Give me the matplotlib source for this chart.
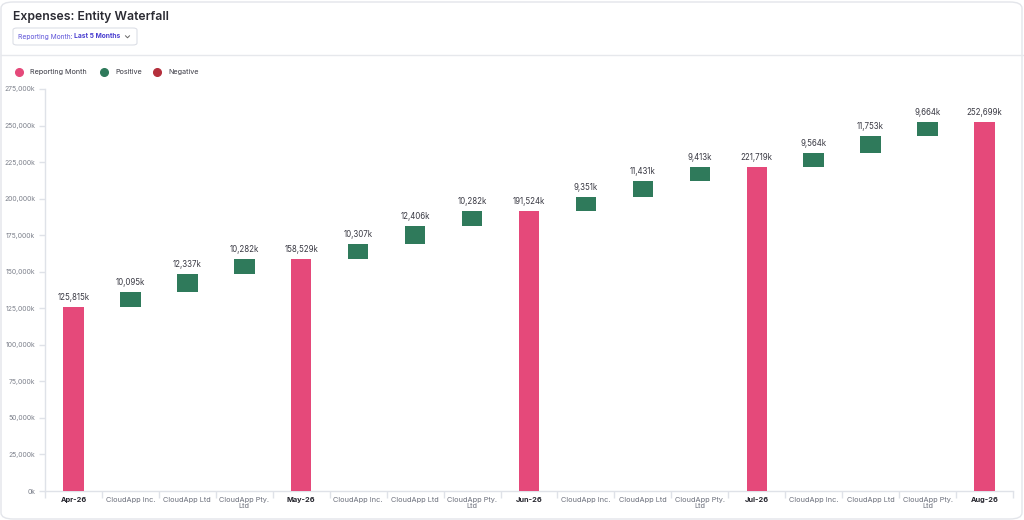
import matplotlib
matplotlib.use("Agg")
import matplotlib.pyplot as plt
from matplotlib.patches import FancyBboxPatch
from matplotlib.lines import Line2D

plt.rcParams["font.family"] = ["Inter", "DejaVu Sans"]

# 数据：月度合计 + 各实体增量
labels = ["Apr-26", "CloudApp Inc.", "CloudApp Ltd", "CloudApp Pty.\nLtd",
          "May-26", "CloudApp Inc.", "CloudApp Ltd", "CloudApp Pty.\nLtd",
          "Jun-26", "CloudApp Inc.", "CloudApp Ltd", "CloudApp Pty.\nLtd",
          "Jul-26", "CloudApp Inc.", "CloudApp Ltd", "CloudApp Pty.\nLtd",
          "Aug-26"]
kinds = ["total", "delta", "delta", "delta"] * 4 + ["total"]
values = [125815, 10095, 12337, 10282,
          158529, 10307, 12406, 10282,
          191524, 9351, 11431, 9413,
          221719, 9564, 11753, 9664,
          252699]
y_ticks = list(range(0, 275001, 25000))

PINK = "#e5497a"
GREEN = "#2f7a5b"
RED = "#b42f3c"
AXIS = "#dfe2e8"
TXT = "#3a3a44"
GRAY = "#6b6f7b"

W, H = 1024, 520
fig = plt.figure(figsize=(W / 100, H / 100), dpi=100)
fig.patch.set_facecolor("white")

# 外框卡片
card = FancyBboxPatch((1 / W, 1 / H), 1 - 3 / W, 1 - 3 / H,
                      boxstyle="round,pad=0,rounding_size=0.012",
                      transform=fig.transFigure, fill=False,
                      edgecolor="#e3e5ea", linewidth=1)
fig.patches.append(card)
fig.add_artist(Line2D([1 / W, 1 - 1 / W], [1 - 55 / H, 1 - 55 / H],
                      transform=fig.transFigure, color="#e6e8ec", linewidth=1))

fig.text(13 / W, 1 - 17 / H, "Expenses: Entity Waterfall", fontsize=8.8,
         fontweight="semibold", color="#2b2b33", va="center")

# 下拉框
dd = FancyBboxPatch((13 / W, 1 - 45 / H), 124 / W, 17 / H,
                    boxstyle="round,pad=0,rounding_size=0.004",
                    transform=fig.transFigure, fill=True, facecolor="white",
                    edgecolor="#dcdfe6", linewidth=0.8)
fig.patches.append(dd)
t1 = fig.text(18 / W, 1 - 36.5 / H, "Reporting Month: ", fontsize=4.8,
              color="#5c52d8", va="center")
fig.canvas.draw()
bb = t1.get_window_extent()
fig.text(bb.x1 / W, 1 - 36.5 / H, "Last 5 Months", fontsize=4.8,
         fontweight="bold", color="#4a3fd0", va="center")
fig.add_artist(Line2D([125.5 / W, 127.5 / W, 129.5 / W],
                      [1 - 35.8 / H, 1 - 37.8 / H, 1 - 35.8 / H],
                      transform=fig.transFigure, color="#666", linewidth=0.7))

# 图例
legend_items = [("Reporting Month", PINK, 19), ("Positive", GREEN, 104),
                ("Negative", RED, 157)]
for name, col, x in legend_items:
    fig.add_artist(Line2D([x / W], [1 - 72 / H], transform=fig.transFigure,
                          marker="o", markersize=5.5, color=col, linestyle="none"))
    fig.text((x + 11) / W, 1 - 72 / H, name, fontsize=5.2, color=TXT, va="center")

ax = fig.add_axes([45 / W, 29 / H, 968 / W, (491 - 89) / H])

running = 0
for i, (k, v) in enumerate(zip(kinds, values)):
    if k == "total":
        bottom, height, col = 0, v, PINK
        running = v
    else:
        bottom, height = running, v
        col = GREEN if v >= 0 else RED
        running += v
    ax.bar(i, height, bottom=bottom, width=0.36, color=col,
           edgecolor="none", zorder=3)
    ax.annotate(f"{v:,}k", (i, bottom + height), xytext=(0, 3.5),
                textcoords="offset points", ha="center", va="bottom",
                fontsize=5.7, color=TXT)

ax.set_xlim(-0.5, len(labels) - 0.5)
ax.set_ylim(0, 275000)
ax.set_yticks(y_ticks)
ax.set_yticklabels([f"{t:,}k" for t in y_ticks], fontsize=4.9, color="#7d818c")
ax.set_xticks(range(len(labels)))
ax.set_xticklabels(labels, fontsize=5.3, color=GRAY, linespacing=1.1)
for lab, k in zip(ax.get_xticklabels(), kinds):
    if k == "total":
        lab.set_fontweight("bold")
        lab.set_color("#25252d")
ax.set_xticks([i + 0.5 for i in range(-1, len(labels))], minor=True)
ax.tick_params(axis="x", which="major", length=0, pad=4)
ax.tick_params(axis="x", which="minor", length=5, color=AXIS, width=1)
ax.tick_params(axis="y", length=4, color=AXIS, width=1, pad=3)

for s in ["top", "right"]:
    ax.spines[s].set_visible(False)
for s in ["left", "bottom"]:
    ax.spines[s].set_color(AXIS)
    ax.spines[s].set_linewidth(1)
ax.spines["left"].set_bounds(0, 275000)
ax.set_facecolor("white")

fig.savefig("out.png", dpi=100)
